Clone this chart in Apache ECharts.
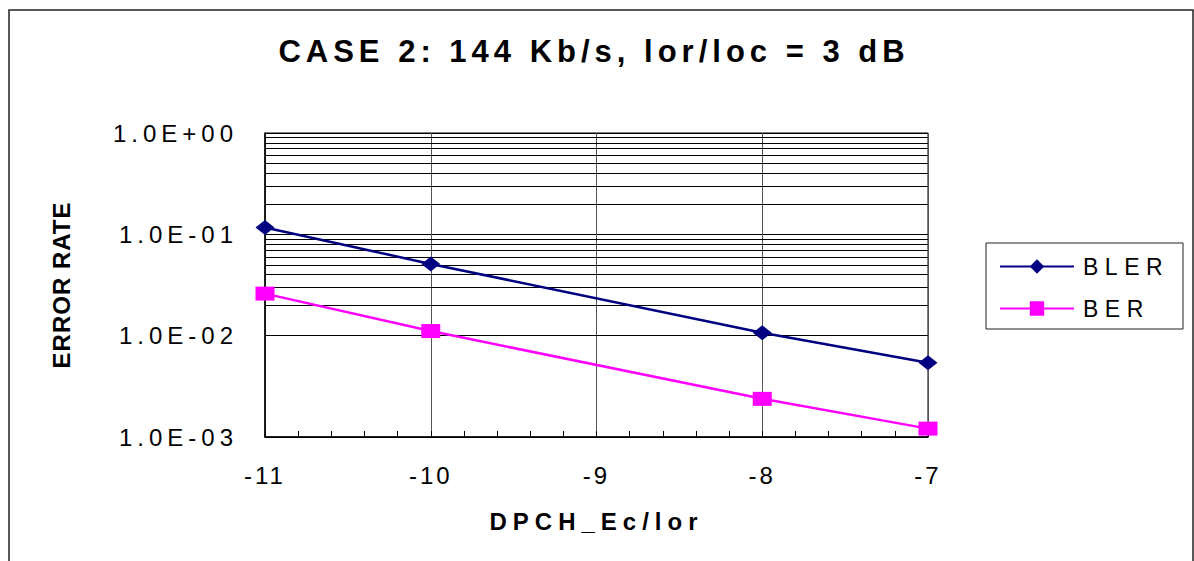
<!DOCTYPE html>
<html>
<head>
<meta charset="utf-8">
<script src="https://cdn.jsdelivr.net/npm/echarts@6/dist/echarts.min.js"></script>
<style>
html,body{margin:0;padding:0;background:#fff;}
#chart{width:1194px;height:561px;}
</style>
</head>
<body>
<div id="chart"></div>
<script>
// ---- data ----
const titleText = 'CASE 2: 144 Kb/s, lor/loc = 3 dB';
const xAxisName = 'DPCH_Ec/lor';
const yAxisName = 'ERROR RATE';
const xValues = [-11, -10, -8, -7];
const blerValues = [0.117, 0.051, 0.0107, 0.0054];
const berValues = [0.026, 0.0111, 0.00238, 0.00121];
const seriesNames = ['BLER', 'BER'];
const xTickLabels = ['-11', '-10', '-9', '-8', '-7'];
const yTickValues = [0.001, 0.01, 0.1, 1];
const yTickLabels = ['1.0E-03', '1.0E-02', '1.0E-01', '1.0E+00'];
const yMinorGridValues = [
  0.002, 0.003, 0.004, 0.005, 0.006, 0.007, 0.008, 0.009,
  0.02, 0.03, 0.04, 0.05, 0.06, 0.07, 0.08, 0.09,
  0.2, 0.3, 0.4, 0.5, 0.6, 0.7, 0.8, 0.9
];

const FONT = '"Liberation Sans", Arial, sans-serif';
const chart = echarts.init(document.getElementById('chart'), null, {renderer: 'svg'});

const option = {
  animation: false,
  backgroundColor: '#fff',
  title: {
    text: titleText,
    left: 594,
    top: 36,
    padding: 0,
    textAlign: 'center',
    textStyle: {fontFamily: FONT, fontSize: 31, fontWeight: 'bold', color: '#000'}
  },
  graphic: [
    {type: 'rect', z: -10, silent: true,
     shape: {x: 9, y: 10, width: 1184, height: 600},
     style: {fill: '#fff', stroke: '#222', lineWidth: 1.5}},
    {type: 'rect', z: 1, silent: true,
     shape: {x: 986, y: 243, width: 197, height: 86},
     style: {fill: '#fff', stroke: '#222', lineWidth: 1}}
  ],
  legend: {
    orient: 'vertical',
    left: 999,
    top: 255,
    padding: 0,
    itemWidth: 74,
    itemHeight: 18,
    itemGap: 19,
    z: 5,
    textStyle: {fontFamily: FONT, fontSize: 23, color: '#000', padding: [0, 0, 0, 4]},
    data: seriesNames
  },
  grid: {
    left: 265, right: 266, top: 133, bottom: 124,
    show: true, borderColor: '#000', borderWidth: 1, backgroundColor: 'transparent',
    containLabel: false
  },
  xAxis: {
    type: 'value',
    min: -11, max: -7, interval: 1,
    name: xAxisName,
    nameLocation: 'middle',
    nameGap: 72,
    nameTextStyle: {fontFamily: FONT, fontSize: 24, fontWeight: 'bold', color: '#000'},
    axisLine: {show: true, lineStyle: {color: '#000', width: 1.5}},
    axisTick: {show: true, inside: true, length: 6, lineStyle: {color: '#000'}},
    minorTick: {show: true, splitNumber: 5, length: 6, lineStyle: {color: '#000'}},
    axisLabel: {
      margin: 26,
      fontFamily: FONT, fontSize: 24, color: '#000',
      formatter: function (v) { const i = Math.round(v + 11); return xTickLabels[i] || ''; }
    },
    splitLine: {show: true, lineStyle: {color: '#555', width: 1}}
  },
  yAxis: {
    type: 'log',
    logBase: 10,
    min: 0.001, max: 1,
    name: yAxisName,
    nameLocation: 'middle',
    nameGap: 192,
    nameTextStyle: {fontFamily: FONT, fontSize: 24, fontWeight: 'bold', color: '#000'},
    axisLine: {show: true, lineStyle: {color: '#000', width: 1.5}},
    axisTick: {show: false},
    axisLabel: {
      margin: 27,
      fontFamily: FONT, fontSize: 24, color: '#000',
      formatter: function (v) {
        const e = Math.round(Math.log10(v));
        const i = yTickValues.findIndex(t => Math.round(Math.log10(t)) === e);
        return i >= 0 ? yTickLabels[i] : '';
      }
    },
    splitLine: {show: true, lineStyle: {color: '#000', width: 1}}
  },
  series: [
    {
      name: seriesNames[0],
      type: 'line',
      data: xValues.map((x, i) => [x, blerValues[i]]),
      symbol: 'diamond',
      symbolSize: [19, 15],
      lineStyle: {color: '#000080', width: 2.5},
      itemStyle: {color: '#000080'},
      z: 4,
      markLine: {
        silent: true,
        symbol: 'none',
        label: {show: false},
        lineStyle: {color: '#000', width: 1, type: 'solid'},
        z: 1,
        animation: false,
        data: yMinorGridValues.map(v => ({yAxis: v}))
      }
    },
    {
      name: seriesNames[1],
      type: 'line',
      data: xValues.map((x, i) => [x, berValues[i]]),
      symbol: 'rect',
      symbolSize: [19, 14],
      lineStyle: {color: '#FF00FF', width: 2.5},
      itemStyle: {color: '#FF00FF'},
      z: 4
    }
  ]
};
chart.setOption(option);

// Character spacing of the original (Excel-style spaced text)
function applySpacing() {
  const texts = document.querySelectorAll('#chart svg text');
  texts.forEach(t => {
    const s = t.textContent;
    let sp = null;
    if (s === titleText) sp = 5;
    else if (yTickLabels.indexOf(s) >= 0) sp = 5;
    else if (xTickLabels.indexOf(s) >= 0) sp = 3;
    else if (s === xAxisName) sp = 6;
    else if (s === yAxisName) sp = 1;
    else if (seriesNames.indexOf(s) >= 0) sp = 6.5;
    if (sp !== null) t.setAttribute('letter-spacing', sp + 'px');
  });
}
chart.on('finished', applySpacing);
applySpacing();
setTimeout(applySpacing, 50);
</script>
</body>
</html>
